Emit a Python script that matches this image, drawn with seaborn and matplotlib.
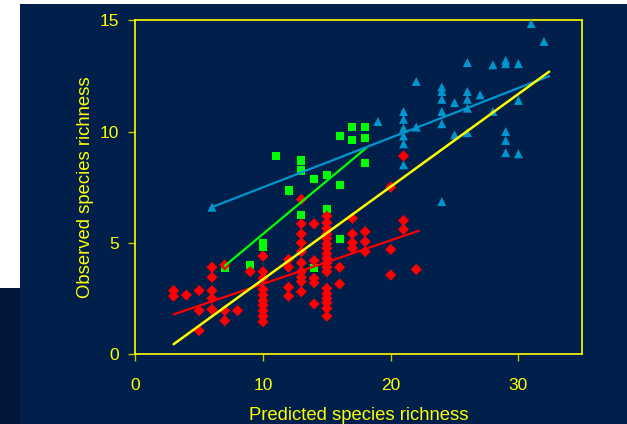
import numpy as np
import pandas as pd
import matplotlib
matplotlib.use("Agg")
import matplotlib.pyplot as plt
from matplotlib.patches import Rectangle
import seaborn as sns

# ---------------- data ----------------
red_x = [3, 3, 4, 5, 5, 5, 6, 6, 6, 6, 6, 7, 7, 7, 8, 9,
         10, 10, 10, 10, 10, 10, 10, 10, 10, 10,
         12, 12, 12, 12,
         13, 13, 13, 13, 13, 13, 13, 13, 13, 13,
         14, 14, 14, 14, 14,
         15, 15, 15, 15, 15, 15, 15, 15, 15, 15, 15, 15, 15, 15, 15, 15, 15, 15,
         16, 16, 17, 17, 17, 17, 18, 18, 18, 20, 20, 20, 21, 21, 21, 22]
red_y = [2.85, 2.6, 2.65, 2.85, 1.95, 1.05, 3.9, 3.45, 2.85, 2.5, 2.0, 4.0, 1.95, 1.5, 1.95, 3.7,
         4.4, 3.7, 3.4, 2.9, 2.65, 2.4, 2.2, 1.95, 1.7, 1.45,
         4.25, 3.9, 3.0, 2.6,
         6.95, 5.85, 5.4, 5.0, 4.6, 4.1, 3.7, 3.45, 3.25, 2.8,
         5.85, 4.2, 3.4, 3.2, 2.25,
         6.2, 5.9, 5.65, 5.4, 5.2, 4.95, 4.75, 4.5, 4.3, 4.1, 3.9, 3.7, 2.95, 2.7, 2.5, 2.3, 2.05, 1.7,
         3.9, 3.15, 6.1, 5.4, 5.0, 4.75, 5.5, 5.05, 4.6, 7.5, 4.7, 3.55, 8.9, 6.0, 5.6, 3.8]

green_x = [7, 9, 10, 10, 11, 12, 13, 13, 13, 14, 14, 15, 15, 16, 16, 16, 17, 17, 18, 18, 18]
green_y = [3.85, 4.0, 5.0, 4.8, 8.9, 7.35, 8.7, 8.25, 6.25, 7.85, 3.85, 8.05, 6.5,
           9.8, 7.6, 5.15, 10.2, 9.6, 10.2, 9.7, 8.6]

blue_x = [6, 19, 21, 21, 21, 21, 21, 21, 22, 22, 24, 24, 24, 24, 24, 24, 25, 25,
          26, 26, 26, 26, 26, 27, 28, 28, 29, 29, 29, 29, 29, 30, 30, 30, 31, 32]
blue_y = [6.6, 10.45, 10.9, 10.55, 10.15, 9.8, 9.45, 8.5, 12.25, 10.2,
          12.0, 11.8, 11.45, 10.9, 10.35, 6.85, 11.3, 9.85,
          13.1, 11.8, 11.45, 11.05, 9.95, 11.65, 13.0, 10.9,
          13.2, 13.05, 10.0, 9.6, 9.05, 13.05, 11.4, 9.0, 14.85, 14.05]

# fitted lines (end points)
fit_blue_x = [6, 32.4]
fit_blue_y = [6.6, 12.49]
fit_green_x = [7, 18.1]
fit_green_y = [3.96, 9.27]
fit_red_x = [3, 22.2]
fit_red_y = [1.78, 5.54]
fit_all_x = [3, 32.4]
fit_all_y = [0.44, 12.69]

x_ticks = [0, 10, 20, 30]
y_ticks = [0, 5, 10, 15]
x_label = "Predicted species richness"
y_label = "Observed species richness"

# ---------------- styling ----------------
NAVY = "#001F4B"
YELLOW = "#FFFF00"
RED = "#FF0000"
GREEN = "#00FF00"
BLUE = "#0095CC"

sns.set_style("ticks")
plt.rcParams["font.family"] = ["Liberation Sans", "DejaVu Sans"]

W, H = 627, 424
fig = plt.figure(figsize=(W / 100, H / 100), dpi=100, facecolor="white")
fig.patches.append(Rectangle((20 / W, 0), (W - 20) / W, (H - 4) / H,
                             transform=fig.transFigure, facecolor=NAVY,
                             edgecolor="none", zorder=-10))
fig.patches.append(Rectangle((0, 0), 20 / W, (H - 288) / H,
                             transform=fig.transFigure, facecolor="#00173A",
                             edgecolor="none", zorder=-10))

left, right = 135.3 / W, 582.3 / W
top, bottom = 1 - 20.3 / H, 1 - 354 / H
ax = fig.add_axes([left, bottom, right - left, top - bottom])
ax.set_facecolor(NAVY)
ax.set_zorder(5)

df = pd.DataFrame({
    "x": blue_x + green_x + red_x,
    "y": blue_y + green_y + red_y,
    "group": ["blue"] * len(blue_x) + ["green"] * len(green_x) + ["red"] * len(red_x),
})

sns.scatterplot(data=df, x="x", y="y", hue="group", style="group", size="group",
                palette={"blue": BLUE, "green": GREEN, "red": RED},
                markers={"blue": "^", "green": "s", "red": "D"},
                sizes={"blue": 42, "green": 34, "red": 33},
                linewidth=0, legend=False, ax=ax, zorder=3)

for fx, fy, col, lw in [(fit_red_x, fit_red_y, RED, 1.6),
                        (fit_green_x, fit_green_y, GREEN, 1.6),
                        (fit_blue_x, fit_blue_y, BLUE, 1.6),
                        (fit_all_x, fit_all_y, YELLOW, 1.8)]:
    sns.lineplot(x=fx, y=fy, color=col, linewidth=lw, ax=ax, zorder=4,
                 estimator=None, sort=False)

ax.set_xlim(0, 35)
ax.set_ylim(0, 15)
ax.set_xticks(x_ticks)
ax.set_yticks(y_ticks)
ax.set_xlabel(x_label, color=YELLOW, fontsize=13.3, labelpad=10)
ax.set_ylabel(y_label, color=YELLOW, fontsize=13.3, labelpad=4)
ax.tick_params(axis="both", colors="#C8C800", labelcolor=YELLOW, labelsize=12.5,
               length=5, width=1, direction="out")
ax.tick_params(axis="x", pad=12)
ax.tick_params(axis="y", pad=7)
for sp in ax.spines.values():
    sp.set_visible(True)
    sp.set_color(YELLOW)
    sp.set_linewidth(1.2)
ax.grid(False)

fig.savefig("out.png", dpi=100, facecolor=fig.get_facecolor())
